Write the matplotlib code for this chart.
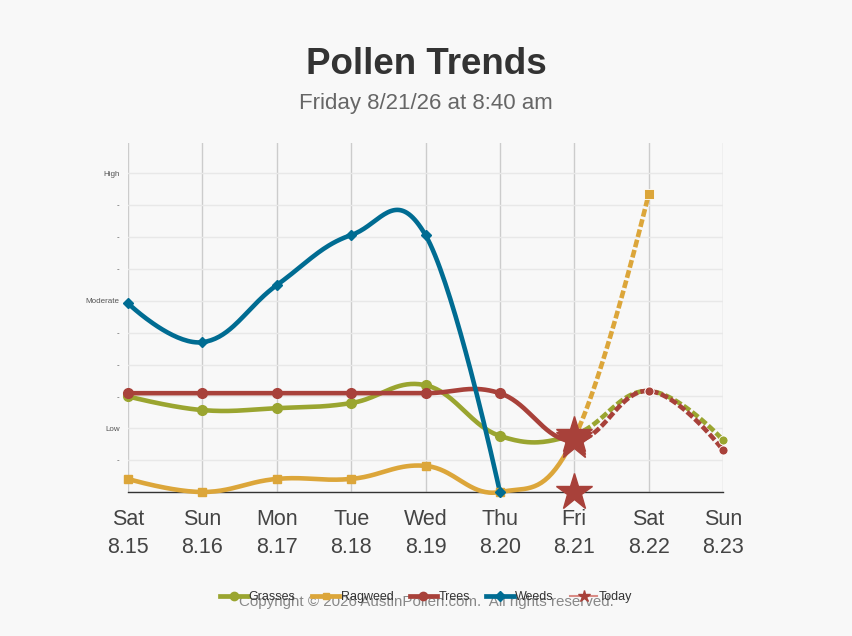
import matplotlib.pyplot as plt
from matplotlib.lines import Line2D
import numpy as np

plt.rcParams['font.family'] = ['Liberation Sans', 'DejaVu Sans']

days = ['Sat', 'Sun', 'Mon', 'Tue', 'Wed', 'Thu', 'Fri', 'Sat', 'Sun']
dates = ['8.15', '8.16', '8.17', '8.18', '8.19', '8.20', '8.21', '8.22', '8.23']

# Sat 8.15 .. Sun 8.23; index 6 (Fri) is today, after that is forecast
grasses = [3.0, 2.57, 2.63, 2.79, 3.35, 1.76, 1.8, 3.17, 1.63]
ragweed = [0.41, 0.0, 0.41, 0.41, 0.82, 0.0, 1.7, 9.34]
trees = [3.1, 3.1, 3.1, 3.1, 3.1, 3.1, 1.6, 3.17, 1.32]
weeds = [5.92, 4.7, 6.49, 8.06, 8.06, 0.0]
today_idx = 6

today_x = [6, 6, 6, 6]
today_y = [1.8, 1.7, 1.6, 0.0]

ytick_vals = list(range(0, 11))
ytick_labels = ['', '-', 'Low', '-', '-', '-', 'Moderate', '-', '-', '-', 'High']

c_grass = '#9aa530'
c_rag = '#dca63a'
c_tree = '#a8413a'
c_weed = '#006c92'


def spline(xs, ys, smoothing=1.5, n=40):
    # bezier spline through the points, control points like highcharts (no clamping)
    xs = list(map(float, xs))
    ys = list(map(float, ys))
    npts = len(xs)
    lc = [(x, y) for x, y in zip(xs, ys)]
    rc = [(x, y) for x, y in zip(xs, ys)]
    d = smoothing + 1
    for i in range(1, npts - 1):
        px, py = xs[i], ys[i]
        lcx = (smoothing * px + xs[i - 1]) / d
        lcy = (smoothing * py + ys[i - 1]) / d
        rcx = (smoothing * px + xs[i + 1]) / d
        rcy = (smoothing * py + ys[i + 1]) / d
        corr = (rcy - lcy) * (rcx - px) / (rcx - lcx) + py - rcy
        lc[i] = (lcx, lcy + corr)
        rc[i] = (rcx, rcy + corr)
    segs = []
    t = np.linspace(0, 1, n)
    for i in range(1, npts):
        p0 = np.array([xs[i - 1], ys[i - 1]])
        p1 = np.array(rc[i - 1])
        p2 = np.array(lc[i])
        p3 = np.array([xs[i], ys[i]])
        pts = ((1 - t) ** 3)[:, None] * p0 + (3 * (1 - t) ** 2 * t)[:, None] * p1 \
            + (3 * (1 - t) * t ** 2)[:, None] * p2 + (t ** 3)[:, None] * p3
        segs.append(pts)
    return segs


fig = plt.figure(figsize=(8.52, 6.36), dpi=100, facecolor='#f8f8f8')
ax = fig.add_axes([128 / 852, 144 / 636, 595 / 852, 349 / 636])
ax.set_facecolor('#f8f8f8')

lw = 3.3
series = [
    (grasses, c_grass, 'o', 7),
    (ragweed, c_rag, 's', 6),
    (trees, c_tree, 'o', 7),
    (weeds, c_weed, 'D', 5.5),
]
for vals, col, mk, ms in series:
    xs = list(range(len(vals)))
    segs = spline(xs, vals)
    past = np.vstack(segs[:today_idx])
    ax.plot(past[:, 0], past[:, 1], color=col, lw=lw, solid_capstyle='round', zorder=3,
            clip_on=False)
    if len(segs) > today_idx:
        fut = np.vstack(segs[today_idx:])
        ax.plot(fut[:, 0], fut[:, 1], color=col, lw=lw, ls=(0, (1.7, 0.6)),
                dash_capstyle='butt', zorder=3, clip_on=False)
    nobs = min(len(vals), today_idx + 1)
    ax.plot(xs[:nobs], vals[:nobs], ls='none', marker=mk, ms=ms, color=col, zorder=4,
            clip_on=False)
    if len(vals) > today_idx + 1:
        ax.plot(xs[today_idx + 1:], vals[today_idx + 1:], ls='none', marker=mk, ms=6.5,
                color=col, mec='white', mew=0.6, zorder=4, clip_on=False)

ax.plot(today_x, today_y, ls='none', marker='*', ms=28, color=c_tree, zorder=5, clip_on=False)

ax.set_xlim(0, 8)
ax.set_ylim(0, 10.95)
ax.set_xticks(range(9))
ax.set_xticklabels([d + '\n' + t for d, t in zip(days, dates)], fontsize=15.5, color='#444444',
                   linespacing=1.45)
ax.set_yticks(ytick_vals)
ax.set_yticklabels(ytick_labels, fontsize=5.8, color='#555555')
ax.tick_params(axis='x', length=0, pad=12)
ax.tick_params(axis='y', length=0, pad=6)
ax.grid(axis='x', color='#cccccc', lw=1)
ax.grid(axis='y', color='#e8e8e8', lw=1)
ax.set_axisbelow(True)
for s in ['top', 'right', 'left']:
    ax.spines[s].set_visible(False)
ax.spines['bottom'].set_color('#333333')
ax.spines['bottom'].set_linewidth(1)

fig.text(0.5, 1 - 64 / 636, 'Pollen Trends', ha='center', va='center', fontsize=26.5,
         fontweight='bold', color='#333333')
fig.text(0.5, 1 - 103 / 636, 'Friday 8/21/26 at 8:40 am', ha='center', va='center',
         fontsize=16, color='#666666')

handles = [
    Line2D([], [], color=c_grass, lw=3.4, marker='o', ms=6),
    Line2D([], [], color=c_rag, lw=3.4, marker='s', ms=5),
    Line2D([], [], color=c_tree, lw=3.4, marker='o', ms=6),
    Line2D([], [], color=c_weed, lw=3.4, marker='D', ms=5),
    Line2D([], [], color='#d98c86', lw=1.5, marker='*', ms=9, mfc=c_tree, mec=c_tree),
]
fig.legend(handles, ['Grasses', 'Ragweed', 'Trees', 'Weeds', 'Today'], loc='center',
           bbox_to_anchor=(0.5, 1 - 597 / 636), ncol=5, frameon=False, fontsize=9,
           handlelength=2.2, handletextpad=0.1, columnspacing=1.3, labelcolor='#333333')
fig.text(0.5, 1 - 602 / 636, 'Copyright \u00a9 2026 AustinPollen.com.  All rights reserved.',
         ha='center', va='center', fontsize=10.9, color='#888888')

fig.savefig('out.png', dpi=100, facecolor='#f8f8f8')
